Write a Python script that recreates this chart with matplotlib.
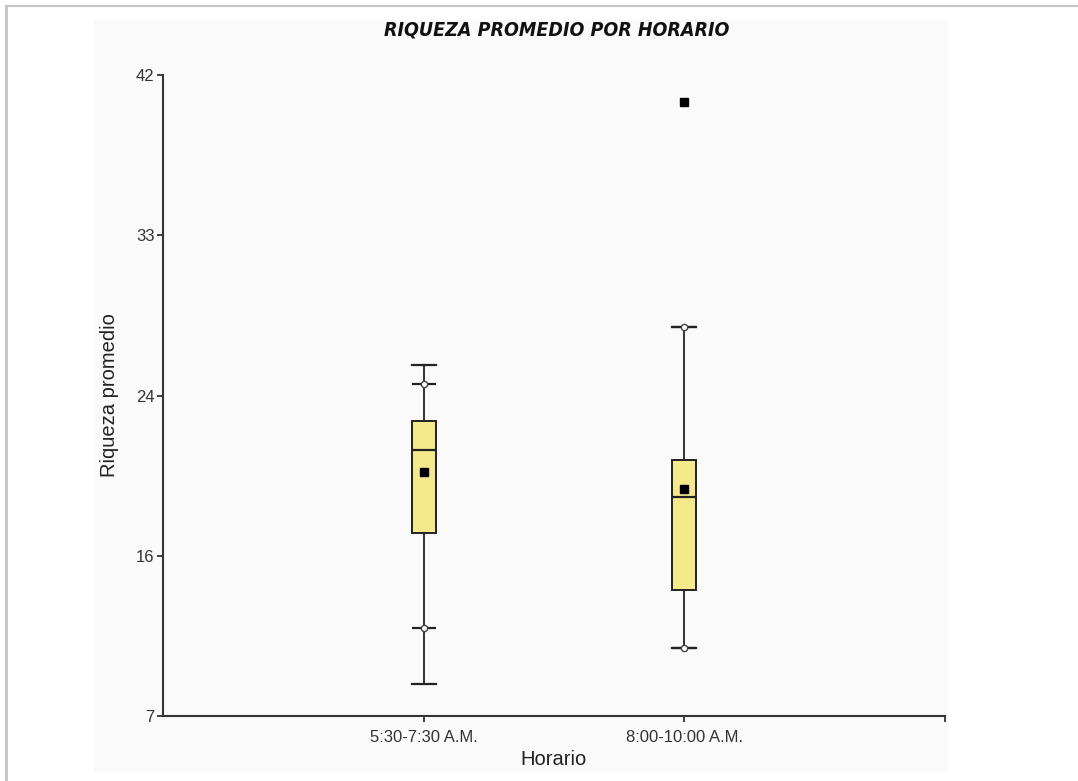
import numpy as np
import matplotlib.pyplot as plt
from matplotlib.patches import Rectangle

# values
horarios = ['5:30-7:30 A.M.', '8:00-10:00 A.M.']
whis_lo = [8.74, 10.7]
q1 = [16.99, 13.87]
medians = [21.52, 18.95]
q3 = [23.1, 20.97]
whis_hi = [26.16, 28.24]
means = [20.32, 19.39]
p_low = [11.8, 10.7]
p_high = [25.12, 28.24]
outliers = [[], [40.53]]

ytick_pos = [7, 15.75, 24.5, 33.25, 42]
ytick_lab = ['7', '16', '24', '33', '42']

plt.rcParams['font.family'] = ['Liberation Sans', 'DejaVu Sans']

fig = plt.figure(figsize=(10.78, 7.81), dpi=100)

# light panel and outer frame
fig.patches.append(Rectangle((94/1078, 1-772/781), (948-94)/1078, (772-20)/781,
                             transform=fig.transFigure, facecolor='#fafafa',
                             edgecolor='none', zorder=-5))
fig.add_artist(plt.Line2D([6/1078, 6/1078], [0, 1-6/781], transform=fig.transFigure,
                          color='#c4c4c4', lw=2, zorder=-5))
fig.add_artist(plt.Line2D([6/1078, 1], [1-6/781, 1-6/781], transform=fig.transFigure,
                          color='#c4c4c4', lw=1.5, zorder=-5))

ax = fig.add_axes([163/1078, 1-716/781, (945-163)/1078, (716-75)/781])
ax.patch.set_alpha(0)

stats = []
for i in range(len(horarios)):
    stats.append(dict(whislo=whis_lo[i], q1=q1[i], med=medians[i], q3=q3[i],
                      whishi=whis_hi[i], mean=means[i], fliers=outliers[i]))

pos = np.arange(1, len(horarios) + 1)
ax.bxp(stats, positions=pos, widths=0.092, patch_artist=True, showmeans=True,
       boxprops=dict(facecolor='#f4ea8c', edgecolor='#222222', lw=1.4),
       medianprops=dict(color='#222222', lw=1.6),
       whiskerprops=dict(color='#222222', lw=1.3),
       capprops=dict(color='#222222', lw=1.6),
       capwidths=0.092,
       meanprops=dict(marker='s', markerfacecolor='black', markeredgecolor='black',
                      markersize=5.5),
       flierprops=dict(marker='s', markerfacecolor='black', markeredgecolor='black',
                       markersize=6))

# percentile marks: short bar with small open circle
ax.hlines(p_low, pos - 0.046, pos + 0.046, color='#222222', lw=1.6, zorder=3)
ax.hlines(p_high, pos - 0.046, pos + 0.046, color='#222222', lw=1.6, zorder=3)
ax.plot(pos, p_low, 'o', ms=4.5, mfc='white', mec='#444444', mew=1, zorder=4)
ax.plot(pos, p_high, 'o', ms=4.5, mfc='white', mec='#444444', mew=1, zorder=4)

ax.set_xlim(0, 3)
ax.set_ylim(7, 42)
ax.set_yticks(ytick_pos, labels=ytick_lab)
ax.set_xticks([1, 2, 3], labels=horarios + [''])
ax.tick_params(axis='both', labelsize=12, labelcolor='#333333', color='#222222',
               length=4, width=1.2)
ax.tick_params(axis='y', pad=2)
ax.tick_params(axis='x', pad=6)

for s in ['top', 'right']:
    ax.spines[s].set_visible(False)
for s in ['left', 'bottom']:
    ax.spines[s].set_color('#333333')
    ax.spines[s].set_linewidth(1.5)

ax.set_xlabel('Horario', fontsize=14.5, color='#222222', labelpad=4)
ax.set_ylabel('Riqueza promedio', fontsize=14.5, color='#222222', labelpad=12)

fig.text(557/1078, 1-30/781, 'RIQUEZA PROMEDIO POR HORARIO', ha='center', va='center',
         fontsize=14, fontweight='bold', fontstyle='italic', fontstretch='condensed',
         family=['Liberation Sans Narrow', 'DejaVu Sans'], color='#111111')

fig.savefig('out.png', dpi=100)
